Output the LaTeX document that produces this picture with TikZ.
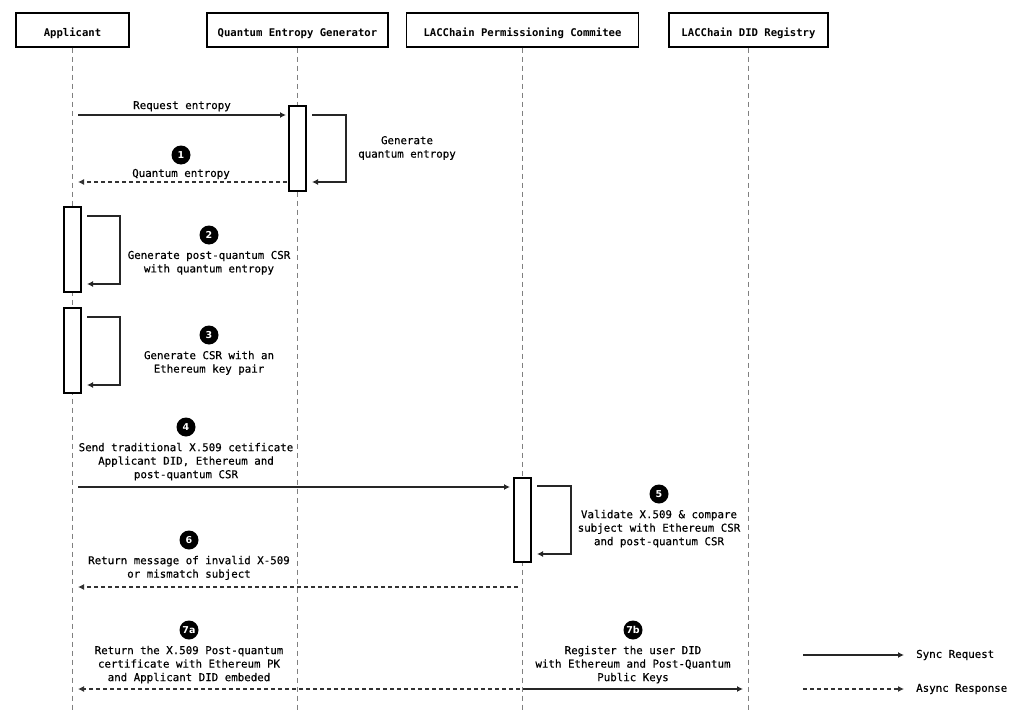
\documentclass[tikz,border=0pt]{standalone}
\usepackage{fontspec}
\setmonofont{DejaVu Sans Mono}
\newfontfamily\msgfont{DejaVu Sans Mono}[FakeBold=0.4]
\newfontfamily\badgefont{DejaVu Sans}
\usetikzlibrary{calc, positioning}
\usetikzlibrary{arrows.meta}
\tikzset{
  font=\msgfont\fontsize{10.8}{13.5}\selectfont,
  % Set arrowhead
  >={Latex[length=6pt, width=6pt]},
  % Participant box
  actor/.style={draw, line width=1.3pt, minimum height=34pt, inner sep=0pt,
    text height=14pt, text depth=0pt,
    font=\ttfamily\bfseries\fontsize{10.6}{13}\selectfont},
  % Lifeline
  life/.style={gray, line width=0.8pt, dash pattern=on 5pt off 4pt},
  % Activation bar
  act/.style={draw, line width=1.3pt, fill=white, minimum width=17pt,
    inner sep=0pt, outer sep=0pt},
  % Step badge
  badge/.style={circle, fill=black, text=white, minimum size=19pt,
    inner sep=0pt, font=\badgefont\bfseries\fontsize{9.5}{10}\selectfont},
  % Message text
  msg/.style={align=center, inner sep=1pt},
  % Arrows
  sync/.style={->, line width=1.4pt, draw=black!85},
  async/.style={->, line width=1.1pt, draw=black!80, dash pattern=on 4pt off 3pt},
  selfloop/.style={->, line width=1.4pt, draw=black!85},
}
\begin{document}
\begin{tikzpicture}[x=1pt, y=-1pt]
  \useasboundingbox (0,0) rectangle (1023,725);

  % participants
  \node[actor, minimum width=113pt] (app) at (72.5,30) {Applicant};
  \node[actor, minimum width=181pt] (qeg) at (297.5,30) {Quantum Entropy Generator};
  \node[actor, minimum width=232pt] (lpc) at (522.5,30) {LACChain Permissioning Commitee};
  \node[actor, minimum width=159pt] (reg) at (748.5,30) {LACChain DID Registry};

  % lifelines
  \coordinate (app-end) at (72.5,712);
  \coordinate (qeg-end) at (297.5,712);
  \coordinate (lpc-end) at (522.5,712);
  \coordinate (reg-end) at (748.5,712);
  \draw[life] (app.south) -- (app-end);
  \draw[life] (qeg.south) -- (qeg-end);
  \draw[life] (lpc.south) -- (lpc-end);
  \draw[life] (reg.south) -- (reg-end);

  % activation bars
  \node[act, minimum height=85pt] (qact) at (297.5,148.5) {};
  \node[act, minimum height=85pt] (aact2) at (72.5,249.5) {};
  \node[act, minimum height=85pt] (aact3) at (72.5,350.5) {};
  \node[act, minimum height=84pt] (lact) at (522.5,520) {};

  % request entropy
  \coordinate (req-s) at (78,115);
  \coordinate (req-e) at (286,115);
  \draw[sync] (req-s) -- (req-e)
    node[midway, above=2pt, inner sep=1pt, black] (req-lbl) {Request entropy};

  % generate quantum entropy
  \coordinate (qloop-s) at ($(qact.north east)+(6,9)$);
  \coordinate (qloop-e) at ($(qact.south east)+(6,-9)$);
  \draw[selfloop] (qloop-s) -- ++(34,0) |- (qloop-e);
  \node[msg] (gen-lbl) at (407,148) {Generate\\quantum entropy};

  % step 1
  \node[badge] (b1) at (181,155) {1};
  \node[msg, below=3pt of b1] (m1) {Quantum entropy};
  \coordinate (ret1-s) at (287,182);
  \coordinate (ret1-e) at (78,182);
  \draw[async] (ret1-s) -- (ret1-e);

  % step 2
  \coordinate (loop2-s) at ($(aact2.north east)+(6,9)$);
  \coordinate (loop2-e) at ($(aact2.south east)+(6,-8)$);
  \draw[selfloop] (loop2-s) -- ++(33,0) |- (loop2-e);
  \node[badge] (b2) at (209,235) {2};
  \node[msg, below=5pt of b2] (m2) {Generate post-quantum CSR\\with quantum entropy};

  % step 3
  \coordinate (loop3-s) at ($(aact3.north east)+(6,9)$);
  \coordinate (loop3-e) at ($(aact3.south east)+(6,-8)$);
  \draw[selfloop] (loop3-s) -- ++(33,0) |- (loop3-e);
  \node[badge] (b3) at (209,335) {3};
  \node[msg, below=5pt of b3] (m3) {Generate CSR with an\\Ethereum key pair};

  % step 4
  \node[badge] (b4) at (186,427) {4};
  \node[msg, below=5pt of b4] (m4) {Send traditional X.509 cetificate\\Applicant DID, Ethereum and\\post-quantum CSR};
  \coordinate (send-s) at (78,487);
  \coordinate (send-e) at (510,487);
  \draw[sync] (send-s) -- (send-e);

  % step 5
  \coordinate (loop5-s) at ($(lact.north east)+(6,8)$);
  \coordinate (loop5-e) at ($(lact.south east)+(6,-8)$);
  \draw[selfloop] (loop5-s) -- ++(34,0) |- (loop5-e);
  \node[badge] (b5) at (659,494) {5};
  \node[msg, below=5pt of b5] (m5) {Validate X.509 \& compare\\subject with Ethereum CSR\\and post-quantum CSR};

  % step 6
  \node[badge] (b6) at (189,540) {6};
  \node[msg, below=5pt of b6] (m6) {Return message of invalid X-509\\or mismatch subject};
  \coordinate (inv-s) at (518,587);
  \coordinate (inv-e) at (78,587);
  \draw[async] (inv-s) -- (inv-e);

  % step 7a
  \node[badge] (b7a) at (189,630) {7a};
  \node[msg, below=5pt of b7a] (m7a) {Return the X.509 Post-quantum\\certificate with Ethereum PK\\and Applicant DID embeded};
  \coordinate (cert-s) at (520,689);
  \coordinate (cert-e) at (78,689);
  \draw[async] (cert-s) -- (cert-e);

  % step 7b
  \node[badge] (b7b) at (633,630) {7b};
  \node[msg, below=5pt of b7b] (m7b) {Register the user DID\\with Ethereum and Post-Quantum\\Public Keys};
  \coordinate (regd-s) at (523,689);
  \coordinate (regd-e) at (743,689);
  \draw[sync] (regd-s) -- (regd-e);

  % legend
  \coordinate (lg1-s) at (803,655);
  \coordinate (lg1-e) at (904,655);
  \coordinate (lg2-s) at (803,689);
  \coordinate (lg2-e) at (904,689);
  \draw[sync] (lg1-s) -- (lg1-e);
  \draw[async] (lg2-s) -- (lg2-e);
  \node[right=12pt of lg1-e, inner sep=0pt] (lg1) {Sync Request};
  \node[right=12pt of lg2-e, inner sep=0pt] (lg2) {Async Response};
\end{tikzpicture}
\end{document}
